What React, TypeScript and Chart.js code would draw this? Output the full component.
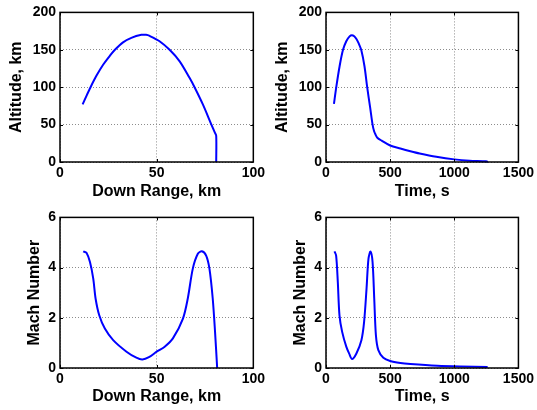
import React, { useEffect, useRef } from 'react';
import { Chart, registerables } from 'chart.js';

Chart.register(...registerables);

// Altitude (km) vs Down Range (km)
const rangeAltX = [11.7, 13.7, 15.8, 18.9, 22.3, 25.8, 28.4, 32.6, 36.9, 42.1, 44.5, 46.4, 51.5, 56.7, 61.9, 67.0, 69.6, 73.9, 78.2, 80.0, 80.8, 80.8];
const rangeAltY = [77, 88.5, 100, 115.5, 130, 142, 150, 160, 166, 170, 170, 168.5, 161.5, 150, 134.6, 112.5, 100, 77, 50.7, 40, 35, 0];

// Altitude (km) vs Time (s)
const timeAltX = [62, 80, 106, 132, 158, 184, 202, 220, 236, 255, 275, 300, 321, 344, 363, 375, 385, 400, 434, 500, 580, 658, 730, 860, 1000, 1119, 1249, 1262];
const timeAltY = [77.6, 100, 128, 149.6, 161.5, 168, 169.5, 168, 164.7, 158.5, 149.6, 128, 100, 73, 50, 41, 37, 32.5, 28.5, 22, 18, 14.4, 11.4, 7, 3.5, 1.7, 0.9, 0];

// Mach Number vs Down Range (km)
const rangeMachX = [12.0, 13.7, 15.5, 17.2, 18.4, 20.3, 23.2, 27.5, 34.4, 39.5, 42.6, 46.0, 50.0, 54.0, 58.4, 63.6, 66.1, 68.7, 71.3, 73.4, 75.6, 77.3, 79.0, 80.2, 81.3];
const rangeMachY = [4.65, 4.59, 4.22, 3.56, 2.77, 2.1, 1.57, 1.11, 0.65, 0.41, 0.34, 0.43, 0.65, 0.84, 1.18, 1.97, 2.77, 3.96, 4.55, 4.65, 4.48, 3.96, 2.77, 1.44, 0];

// Mach Number vs Time (s)
const timeMachX = [66, 79, 92, 105, 126, 158, 180, 203, 237, 276, 297, 316, 331, 347, 363, 376, 389, 408, 447, 500, 580, 658, 868, 1050, 1260];
const timeMachY = [4.65, 4.48, 3.43, 2.1, 1.44, 0.85, 0.58, 0.36, 0.58, 1.11, 1.84, 3.16, 4.35, 4.64, 4.22, 2.77, 1.31, 0.71, 0.41, 0.28, 0.2, 0.16, 0.09, 0.06, 0.04];

const altMax = 200;
const altStep = 50;
const machMax = 6;
const machStep = 2;
const rangeMax = 100;
const rangeStep = 50;
const timeMax = 1500;
const timeStep = 500;

const FONT = "'Liberation Sans', Arial, Helvetica, sans-serif";

const framePlugin = {
  id: 'matlabFrame',
  afterDraw(chart: any) {
    const { ctx, chartArea } = chart;
    const { left, right, top, bottom } = chartArea;
    const xs = chart.scales.x;
    const ys = chart.scales.y;
    const tl = 3;
    ctx.save();
    ctx.setLineDash([]);
    ctx.strokeStyle = '#000';
    ctx.lineWidth = 1;
    ctx.beginPath();
    xs.ticks.forEach((t: any) => {
      const px = Math.round(xs.getPixelForValue(t.value)) + 0.5;
      ctx.moveTo(px, bottom);
      ctx.lineTo(px, bottom - tl);
      ctx.moveTo(px, top);
      ctx.lineTo(px, top + tl);
    });
    ys.ticks.forEach((t: any) => {
      const py = Math.round(ys.getPixelForValue(t.value)) + 0.5;
      ctx.moveTo(left, py);
      ctx.lineTo(left + tl, py);
      ctx.moveTo(right, py);
      ctx.lineTo(right - tl, py);
    });
    ctx.stroke();
    ctx.lineWidth = 1.5;
    ctx.strokeRect(left, top, right - left, bottom - top);
    ctx.restore();
  },
};

type PanelProps = {
  left: number;
  top: number;
  width: number;
  height: number;
  padTop: number;
  padRight: number;
  xAxisHeight: number;
  xs: number[];
  ys: number[];
  xMax: number;
  xStep: number;
  yMax: number;
  yStep: number;
  xTitle: string;
  yTitle: string;
  yTitlePad: number;
};

function Panel(p: PanelProps) {
  const ref = useRef<HTMLCanvasElement | null>(null);
  useEffect(() => {
    if (!ref.current) return;
    const data = p.xs.map((x, i) => ({ x, y: p.ys[i] }));
    const chart = new Chart(ref.current, {
      type: 'line',
      data: {
        datasets: [
          {
            data,
            borderColor: '#0000ff',
            borderWidth: 2,
            pointRadius: 0,
            tension: 0.3,
            fill: false,
            clip: false as any,
          },
        ],
      },
      options: {
        animation: false,
        responsive: false,
        devicePixelRatio: 1,
        layout: { padding: { top: p.padTop, right: p.padRight, left: 0, bottom: 0 } },
        plugins: { legend: { display: false }, tooltip: { enabled: false } },
        scales: {
          x: {
            type: 'linear',
            min: 0,
            max: p.xMax,
            afterFit: (s: any) => {
              s.height = p.xAxisHeight;
            },
            ticks: {
              stepSize: p.xStep,
              color: '#000',
              padding: 3,
              maxRotation: 0,
              callback: (v: any) => String(v),
              font: { family: FONT, size: 14, weight: 'bold' },
            },
            grid: { color: '#8c8c8c', lineWidth: 1, drawTicks: false },
            border: { display: false, dash: [1, 2] },
            title: {
              display: true,
              text: p.xTitle,
              color: '#000',
              font: { family: FONT, size: 16, weight: 'bold' },
              padding: { top: 0, bottom: 4 },
            },
          },
          y: {
            type: 'linear',
            min: 0,
            max: p.yMax,
            afterFit: (s: any) => {
              s.width = 60;
            },
            ticks: {
              stepSize: p.yStep,
              color: '#000',
              padding: 4,
              callback: (v: any) => String(v),
              font: { family: FONT, size: 14, weight: 'bold' },
            },
            grid: { color: '#8c8c8c', lineWidth: 1, drawTicks: false },
            border: { display: false, dash: [1, 2] },
            title: {
              display: true,
              text: p.yTitle,
              color: '#000',
              font: { family: FONT, size: 16, weight: 'bold' },
              padding: { top: p.yTitlePad, bottom: 0 },
            },
          },
        },
      } as any,
      plugins: [framePlugin],
    });
    return () => chart.destroy();
  }, []);
  return (
    <canvas
      ref={ref}
      width={p.width}
      height={p.height}
      style={{ position: 'absolute', left: p.left, top: p.top, width: p.width, height: p.height }}
    />
  );
}

export default function App() {
  return (
    <div style={{ position: 'absolute', left: 0, top: 0, width: 537, height: 410, background: '#fff' }}>
      <Panel
        left={0} top={0} width={268} height={205}
        padTop={11} padRight={14} xAxisHeight={43}
        xs={rangeAltX} ys={rangeAltY}
        xMax={rangeMax} xStep={rangeStep} yMax={altMax} yStep={altStep}
        xTitle="Down Range, km" yTitle="Altitude, km" yTitlePad={7}
      />
      <Panel
        left={266} top={0} width={271} height={205}
        padTop={11} padRight={18} xAxisHeight={43}
        xs={timeAltX} ys={timeAltY}
        xMax={timeMax} xStep={timeStep} yMax={altMax} yStep={altStep}
        xTitle="Time, s" yTitle="Altitude, km" yTitlePad={7}
      />
      <Panel
        left={0} top={205} width={268} height={205}
        padTop={12} padRight={14} xAxisHeight={42}
        xs={rangeMachX} ys={rangeMachY}
        xMax={rangeMax} xStep={rangeStep} yMax={machMax} yStep={machStep}
        xTitle="Down Range, km" yTitle="Mach Number" yTitlePad={25}
      />
      <Panel
        left={266} top={205} width={271} height={205}
        padTop={12} padRight={18} xAxisHeight={42}
        xs={timeMachX} ys={timeMachY}
        xMax={timeMax} xStep={timeStep} yMax={machMax} yStep={machStep}
        xTitle="Time, s" yTitle="Mach Number" yTitlePad={25}
      />
    </div>
  );
}
